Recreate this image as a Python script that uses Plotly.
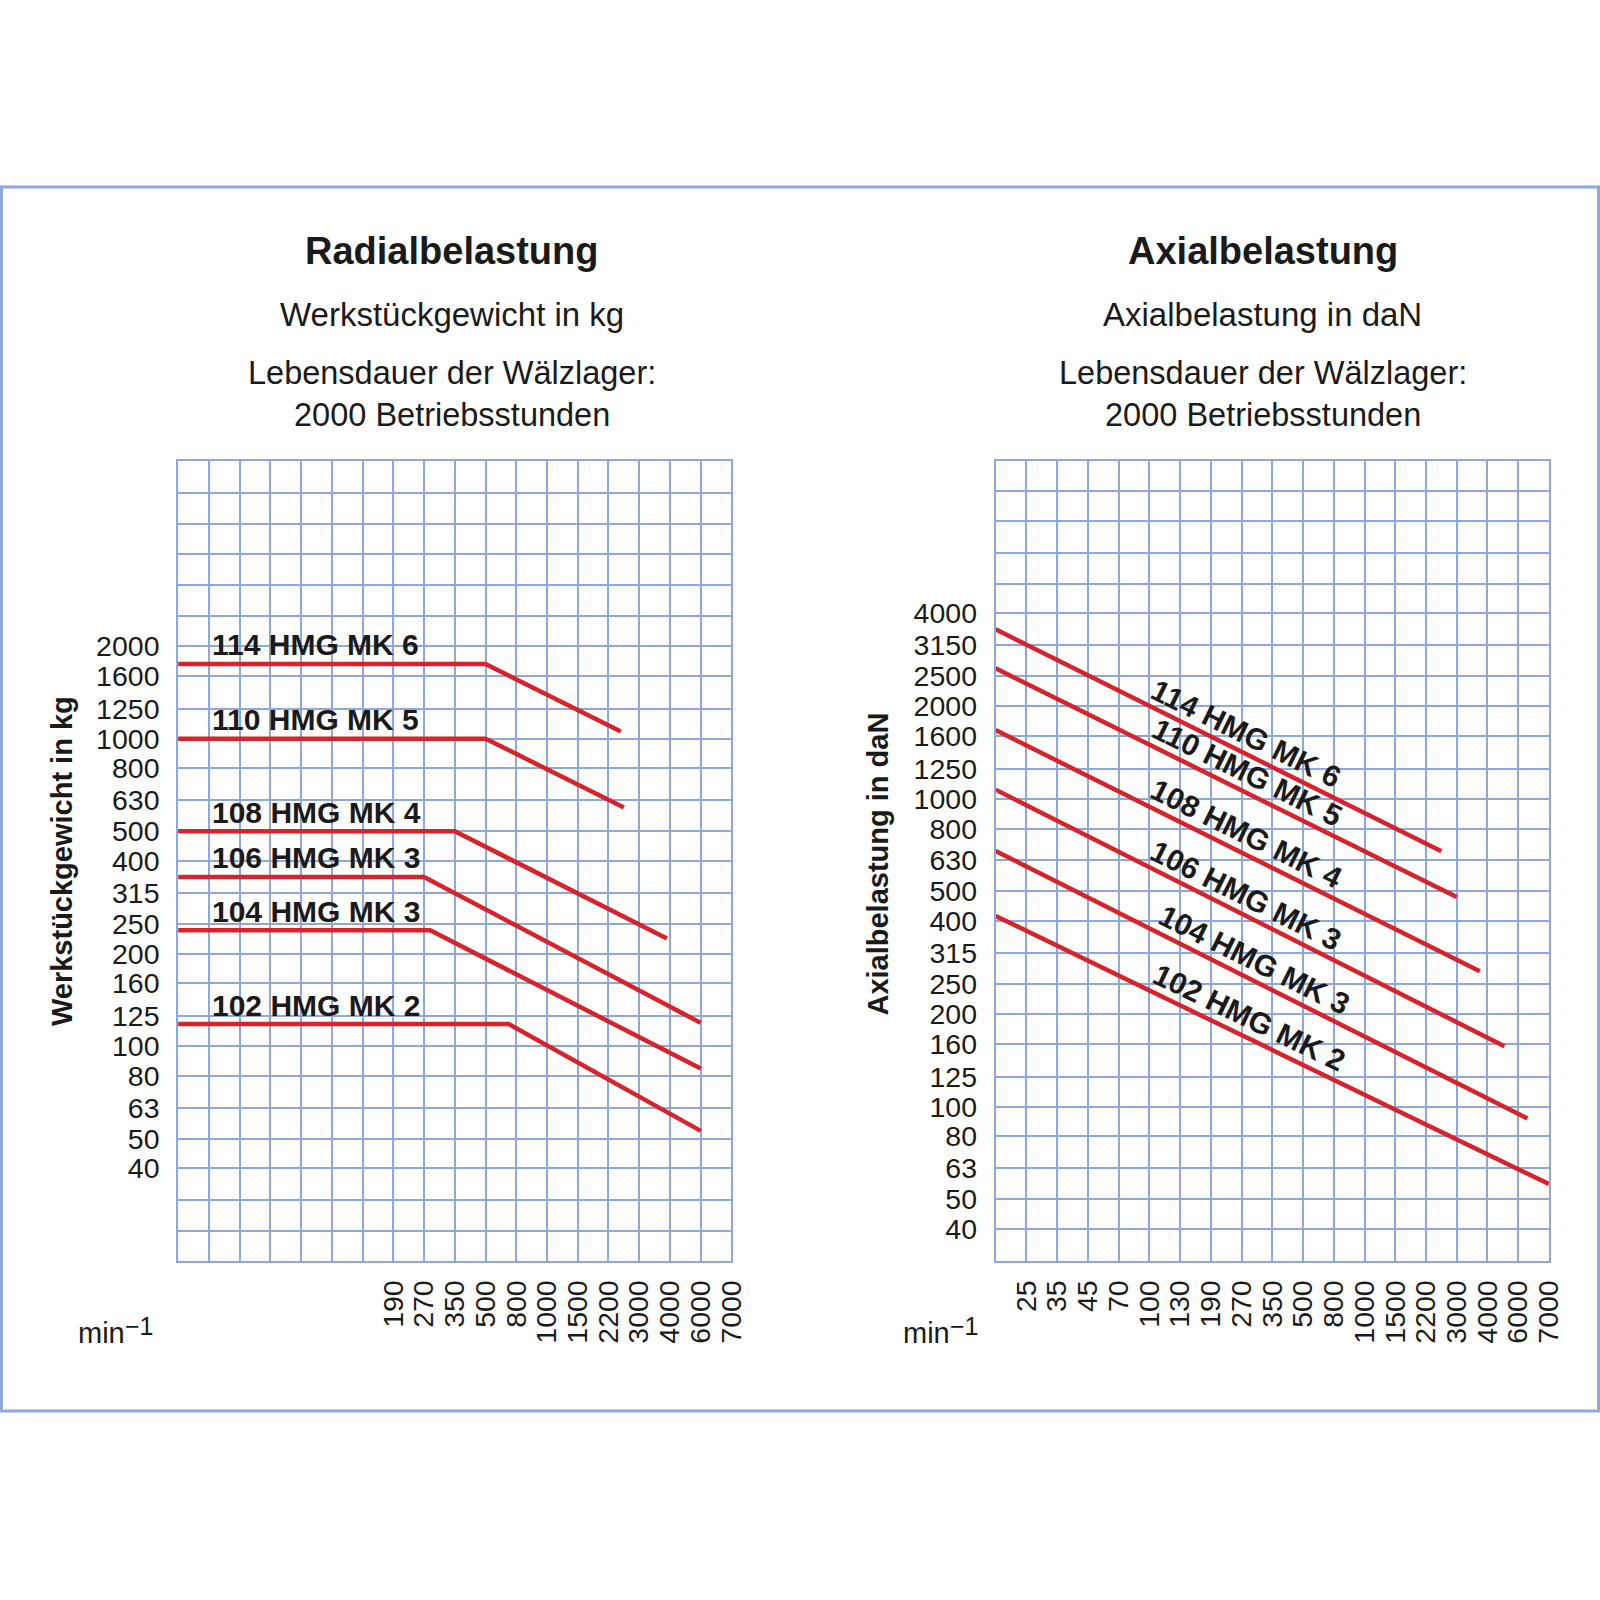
import numpy as np
import plotly.graph_objects as go

# R10 preferred numbers, one grid row each (load scale)
r10 = [20, 25, 31.5, 40, 50, 63, 80, 100, 125, 160, 200, 250, 315, 400,
       500, 630, 800, 1000, 1250, 1600, 2000, 2500, 3150, 4000, 5000,
       6300, 8000, 10000, 12500]

# speed labels in min^-1, one grid column each (columns 1..18)
rpm = [25, 35, 45, 70, 100, 130, 190, 270, 350, 500, 800, 1000, 1500,
       2200, 3000, 4000, 6000, 7000]
rpm_col = list(range(1, 19))

models = ["114 HMG MK 6", "110 HMG MK 5", "108 HMG MK 4",
          "106 HMG MK 3", "104 HMG MK 3", "102 HMG MK 2"]

# Radialbelastung: x in grid columns, y in kg
radial_x = [[0, 10, 14.4], [0, 10, 14.5], [0, 9, 15.9],
            [0, 8, 17], [0, 8.2, 17], [0, 10.75, 17]]
radial_y = [[1750, 1750, 1055], [1000, 1000, 597], [500, 500, 224],
            [355, 355, 119], [238, 238, 84.5], [118, 118, 53]]

# Axialbelastung: x in grid columns, y in daN
axial_x = [[0, 14.5], [0, 15], [0, 15.75], [0, 16.55], [0, 17.3], [0, 18]]
axial_y = [[3550, 675], [2650, 479], [1670, 275], [1070, 157],
           [676, 91.5], [416, 56]]
axial_label_col = [8.15, 8.2, 8.15, 8.15, 8.4, 8.25]

# page geometry (px, as seen on the 1600 page)
W = H = 1600
FIG_W = 1616  # the page comes out ~1% narrower than asked for
TOP, BOT = 461, 1261
L0, L1 = 178, 731
R0, R1 = 995, 1548

FONT = "Liberation Sans"
INK = "#1a1a1a"
GRID = "#8ea8da"
RED = "#d6232c"


def px(x):
    return x / W


def py(y):
    return 1 - y / H


fig = go.Figure()

for xs, ys in zip(radial_x, radial_y):
    fig.add_trace(go.Scatter(x=xs, y=ys, mode="lines", xaxis="x", yaxis="y",
                             line=dict(color=RED, width=4.5), hoverinfo="skip"))
for xs, ys in zip(axial_x, axial_y):
    fig.add_trace(go.Scatter(x=xs, y=ys, mode="lines", xaxis="x2", yaxis="y2",
                             line=dict(color=RED, width=4.5), hoverinfo="skip"))

cols = list(range(19))
left_cols = [c for c, r in zip(rpm_col, rpm) if r >= 190]
left_rpm = [str(r) for r in rpm if r >= 190]

left_grid = [v for v in r10 if 20 <= v <= 8000]
right_grid = [v for v in r10 if 31.5 <= v <= 12500]
left_lab = [v for v in left_grid if 40 <= v <= 2000]
right_lab = [v for v in right_grid if 40 <= v <= 4000]

GW = 1.8
minor_x = dict(tickvals=cols, showgrid=True, gridcolor=GRID, gridwidth=GW, ticks="")
xcommon = dict(range=[0, 18], tickangle=-90, showgrid=True, minor=minor_x,
               gridcolor=GRID, gridwidth=GW, showline=True, linecolor=GRID,
               linewidth=GW, mirror=True, zeroline=False, ticks="",
               ticklabelstandoff=6, tickfont=dict(family=FONT, size=28.5, color=INK))
ycommon = dict(type="log", showgrid=True, gridcolor=GRID, gridwidth=GW,
               showline=True, linecolor=GRID, linewidth=GW, mirror=True,
               zeroline=False, ticks="", ticklabelstandoff=11,
               tickfont=dict(family=FONT, size=28.5, color=INK),
               domain=[py(BOT), py(TOP)])

fig.update_layout(
    width=FIG_W, height=H, margin=dict(l=0, r=0, t=0, b=0),
    paper_bgcolor="white", plot_bgcolor="white", showlegend=False,
    xaxis=dict(xcommon, domain=[px(L0), px(L1)], anchor="y",
               tickvals=left_cols, ticktext=left_rpm),
    yaxis=dict(ycommon, range=[np.log10(20), np.log10(8000)], anchor="x",
               tickvals=left_lab, ticktext=[f"{v:g}" for v in left_lab],
               minor=dict(tickvals=left_grid, showgrid=True, gridcolor=GRID,
                          gridwidth=GW, ticks="")),
    xaxis2=dict(xcommon, domain=[px(R0), px(R1)], anchor="y2",
                tickvals=rpm_col, ticktext=[str(r) for r in rpm]),
    yaxis2=dict(ycommon, range=[np.log10(31.5), np.log10(12500)], anchor="x2",
                tickvals=right_lab, ticktext=[f"{v:g}" for v in right_lab],
                minor=dict(tickvals=right_grid, showgrid=True, gridcolor=GRID,
                           gridwidth=GW, ticks="")),
)

ann = []

# headings
for cx, head, unit in [(452, "Radialbelastung", "Werkstückgewicht in kg"),
                       (1262, "Axialbelastung", "Axialbelastung in daN")]:
    ann.append(dict(x=px(cx), y=py(251), text=f"<b>{head}</b>",
                    font=dict(size=38, color=INK)))
    ann.append(dict(x=px(cx), y=py(314), text=unit, font=dict(size=33, color=INK)))
    ann.append(dict(x=px(cx), y=py(394),
                    text="Lebensdauer der Wälzlager:<br>2000 Betriebsstunden",
                    font=dict(size=32.5, color=INK)))

# y axis titles
ann.append(dict(x=px(62), y=py(861), text="<b>Werkstückgewicht in kg</b>",
                textangle=-90, font=dict(size=29, color=INK)))
ann.append(dict(x=px(877), y=py(864), text="<b>Axialbelastung in daN</b>",
                textangle=-90, font=dict(size=29, color=INK)))

# unit of the speed axis: "min" with a raised "−1"
for right_end in (156, 980):
    ann.append(dict(x=px(right_end - 29), y=py(1333), xanchor="right",
                    text="min", font=dict(size=29, color=INK)))
    ann.append(dict(x=px(right_end), y=py(1326), xanchor="right",
                    text="−1", font=dict(size=25, color=INK)))

for a in ann:
    a.update(xref="paper", yref="paper", showarrow=False)
    a.setdefault("xanchor", "center")
    a["yanchor"] = "middle"
    a["font"]["family"] = FONT

# model labels, left: above the horizontal part
for name, xs, ys in zip(models, radial_x, radial_y):
    ann.append(dict(xref="x", yref="y", x=1.05, y=np.log10(ys[0]), yshift=19,
                    xanchor="left", yanchor="middle", showarrow=False,
                    text=f"<b>{name}</b>",
                    font=dict(family=FONT, size=30, color=INK)))

# model labels, right: along the sloped lines
px_per_col = (R1 - R0) * FIG_W / W / 18
px_per_dec = (BOT - TOP) / (np.log10(12500) - np.log10(31.5))
for name, xs, ys, col in zip(models, axial_x, axial_y, axial_label_col):
    ly = np.log10(ys)
    slope = (ly[1] - ly[0]) / (xs[1] - xs[0])
    angle = np.degrees(np.arctan(-slope * px_per_dec / px_per_col))
    yl = np.interp(col, xs, ly)
    ann.append(dict(xref="x2", yref="y2", x=col, y=yl, yshift=21,
                    xanchor="center", yanchor="middle", showarrow=False,
                    textangle=angle, text=f"<b>{name}</b>",
                    font=dict(family=FONT, size=30, color=INK)))

fig.update_layout(annotations=ann)

fig.add_shape(type="rect", xref="paper", yref="paper",
              x0=px(1.5), x1=px(1597.5), y0=py(1411), y1=py(187),
              line=dict(color=GRID, width=3), layer="below")

# page body: no default margin, no scrollbars, so the figure sits at 0,0
page_js = ("document.body.style.margin='0px';"
           "document.body.style.overflow='hidden';"
           "document.documentElement.style.overflow='hidden';")
fig.write_html("out.html", config={"displayModeBar": False}, post_script=page_js)
